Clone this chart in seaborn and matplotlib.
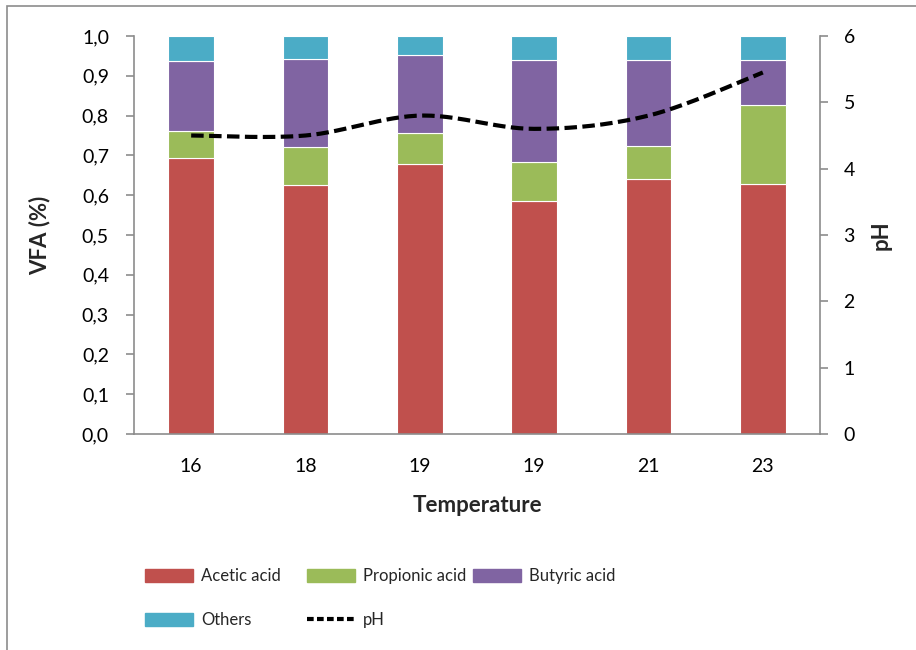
import numpy as np
import pandas as pd
import matplotlib
matplotlib.use("Agg")
import matplotlib.pyplot as plt
from matplotlib.patches import Rectangle, Patch
from matplotlib.lines import Line2D
from matplotlib.ticker import FuncFormatter, MultipleLocator
import seaborn as sns

# ---- data ----
temperatures = ["16", "18", "19", "19", "21", "23"]
acetic = [0.694, 0.626, 0.678, 0.586, 0.641, 0.629]
propionic = [0.067, 0.095, 0.079, 0.097, 0.082, 0.198]
butyric = [0.177, 0.222, 0.195, 0.256, 0.217, 0.113]
others = [0.062, 0.057, 0.048, 0.061, 0.060, 0.060]
ph = [4.5, 4.5, 4.8, 4.6, 4.8, 5.45]

series_names = ["Acetic acid", "Propionic acid", "Butyric acid", "Others"]
colors = ["#C0504D", "#9BBB59", "#8064A2", "#4BACC6"]

sns.set_theme(style="white")
plt.rcParams["font.family"] = ["Lato", "DejaVu Sans"]

fig = plt.figure(figsize=(9.16, 6.5), dpi=100)
W, H = 916, 650
ax = fig.add_axes([134 / W, 1 - 434 / H, (820 - 134) / W, (434 - 36) / H])

df = pd.DataFrame({"Temperature": temperatures, "Acetic acid": acetic,
                   "Propionic acid": propionic, "Butyric acid": butyric,
                   "Others": others})
df["pos"] = range(len(df))

bottom = np.zeros(len(df))
for name, col in zip(series_names, colors):
    vals = df[name].to_numpy()
    ax.bar(df["pos"], vals, bottom=bottom, width=0.40, color=col,
           edgecolor="white", linewidth=0.8, zorder=2)
    bottom = bottom + vals

GREY = "#8C8C8C"
ax.set_xlim(-0.5, len(df) - 0.5)
ax.set_ylim(0, 1.0)
ax.yaxis.set_major_locator(MultipleLocator(0.1))
ax.yaxis.set_major_formatter(FuncFormatter(lambda v, p: f"{v:.1f}".replace(".", ",")))
ax.set_xticks(df["pos"])
ax.set_xticklabels(temperatures)
ax.tick_params(axis="x", length=0, labelsize=14, pad=17, colors="black")
ax.set_xticks(np.arange(-0.5, len(df), 1.0), minor=True)
ax.tick_params(axis="x", which="minor", length=6, width=1.2, color=GREY, direction="out")
ax.tick_params(axis="y", length=6, width=1.2, color=GREY, direction="out",
               labelsize=14, pad=12, left=True, labelcolor="black")

for s in ["top", "right"]:
    ax.spines[s].set_visible(False)
for s in ["left", "bottom"]:
    ax.spines[s].set_color(GREY)
    ax.spines[s].set_linewidth(1.2)

ax.set_ylabel("VFA (%)", fontsize=16, fontweight="bold", va="center")
ax.yaxis.set_label_coords((40 - 134) / 686, 0.5)
ax.set_xlabel("Temperature", fontsize=16, fontweight="bold", va="center")
ax.xaxis.set_label_coords(0.5, -(506 - 434) / 398)

# secondary axis for pH
ax2 = ax.twinx()
ax2.set_ylim(0, 6)
ax2.yaxis.set_major_locator(MultipleLocator(1))
for s in ["top", "left", "bottom"]:
    ax2.spines[s].set_visible(False)
ax2.spines["right"].set_color(GREY)
ax2.spines["right"].set_linewidth(1.2)
ax2.tick_params(axis="y", length=6, width=1.2, color=GREY, direction="out",
                labelsize=14, pad=11, right=True, labelcolor="black")
ax2.set_ylabel("pH", fontsize=16, fontweight="bold", va="center")
ax2.yaxis.set_label_coords((881 - 134) / 686, 0.5)
ax2.grid(False)
ax.grid(False)

# smoothed (Catmull-Rom, duplicated end points) rendering of the pH line
xp = np.arange(len(ph), dtype=float)
yp = np.array(ph, dtype=float)
P = np.vstack([xp, yp]).T
Pext = np.vstack([P[0], P, P[-1]])
curve = []
for i in range(1, len(Pext) - 2):
    p0, p1, p2, p3 = Pext[i - 1], Pext[i], Pext[i + 1], Pext[i + 2]
    for t in np.linspace(0, 1, 30, endpoint=False):
        t2, t3 = t * t, t * t * t
        pt = 0.5 * ((2 * p1) + (-p0 + p2) * t + (2 * p0 - 5 * p1 + 4 * p2 - p3) * t2
                    + (-p0 + 3 * p1 - 3 * p2 + p3) * t3)
        curve.append(pt)
curve.append(P[-1])
curve = np.array(curve)
ax2.plot(curve[:, 0], curve[:, 1], color="black", linewidth=3,
         linestyle=(0, (3.0, 1.3)), zorder=3)

# legend: each entry placed on Excel's grid
entries = [
    (Patch(color=colors[0]), "Acetic acid", 145, 576),
    (Patch(color=colors[1]), "Propionic acid", 307, 576),
    (Patch(color=colors[2]), "Butyric acid", 473, 576),
    (Patch(color=colors[3]), "Others", 145, 620),
    (Line2D([], [], color="black", lw=3, linestyle=(0, (1.6, 0.8))), "pH", 307, 620),
]
LFS = 12
for h, lab, x, y in entries:
    fig.legend([h], [lab], loc="center left", bbox_to_anchor=(x / W, 1 - y / H),
               frameon=False, fontsize=LFS, handlelength=2.9, handleheight=0.85,
               handletextpad=0.45, borderpad=0, borderaxespad=0)

# outer chart frame
fig.patches.append(Rectangle((7 / W, -0.1), 1.2, 1 - 6 / H + 0.1, transform=fig.transFigure,
                             fill=False, edgecolor=GREY, linewidth=1.2))

fig.savefig("out.png", dpi=100)
